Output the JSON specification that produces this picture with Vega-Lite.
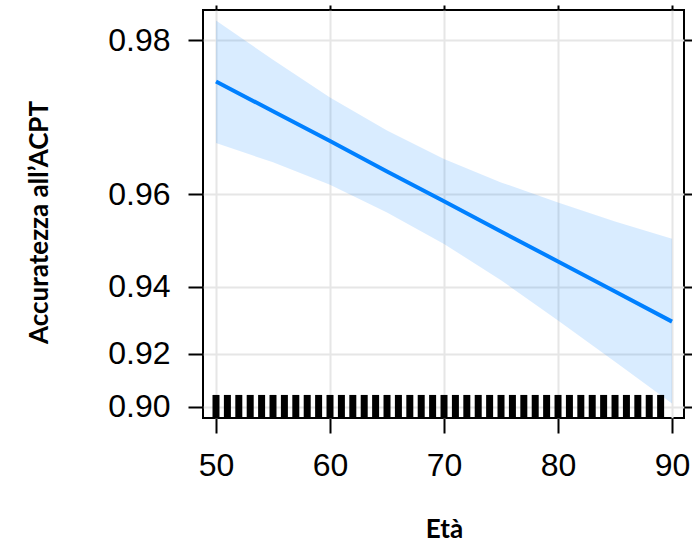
{
  "$schema": "https://vega.github.io/schema/vega-lite/v6.json",
  "autosize": "none",
  "padding": {"left": 203, "top": 10, "right": 8, "bottom": 126},
  "width": 481,
  "height": 408,
  "background": "white",
  "config": {
    "view": {"stroke": "black", "strokeWidth": 2},
    "axis": {
      "labelFont": "Liberation Sans",
      "labelFontSize": 32,
      "labelColor": "black",
      "titleFont": "Lato",
      "titleFontWeight": "bold",
      "titleColor": "black",
      "domain": false,
      "tickColor": "black",
      "tickWidth": 2,
      "gridColor": "#e6e6e6",
      "gridWidth": 2,
      "gridOpacity": 1
    }
  },
  "datasets": {
    "fit": [
      {"age": 50, "fit": 0.9758, "lo": 0.9681, "hi": 0.9817},
      {"age": 55, "fit": 0.9723, "lo": 0.9653, "hi": 0.9780},
      {"age": 60, "fit": 0.9684, "lo": 0.9616, "hi": 0.9740},
      {"age": 65, "fit": 0.9638, "lo": 0.9566, "hi": 0.9699},
      {"age": 70, "fit": 0.9587, "lo": 0.9502, "hi": 0.9658},
      {"age": 75, "fit": 0.9528, "lo": 0.9416, "hi": 0.9620},
      {"age": 80, "fit": 0.9462, "lo": 0.9305, "hi": 0.9585},
      {"age": 85, "fit": 0.9387, "lo": 0.9171, "hi": 0.9549},
      {"age": 90, "fit": 0.9302, "lo": 0.9012, "hi": 0.9513}
    ],
    "rug": [
      {"age": 50}, {"age": 51}, {"age": 52}, {"age": 53}, {"age": 54},
      {"age": 55}, {"age": 56}, {"age": 57}, {"age": 58}, {"age": 59},
      {"age": 60}, {"age": 61}, {"age": 62}, {"age": 63}, {"age": 64},
      {"age": 65}, {"age": 66}, {"age": 67}, {"age": 68}, {"age": 69},
      {"age": 70}, {"age": 71}, {"age": 72}, {"age": 73}, {"age": 74},
      {"age": 75}, {"age": 76}, {"age": 77}, {"age": 78}, {"age": 79},
      {"age": 80}, {"age": 81}, {"age": 82}, {"age": 83}, {"age": 84},
      {"age": 85}, {"age": 86}, {"age": 87}, {"age": 88}, {"age": 89}
    ]
  },
  "resolve": {"axis": {"x": "independent", "y": "independent"}},
  "layer": [
    {
      "data": {"name": "fit"},
      "mark": {"type": "area", "color": "#0080ff", "opacity": 0.15},
      "encoding": {
        "x": {
          "field": "age", "type": "quantitative",
          "scale": {"domain": [48.86, 91.05], "nice": false, "zero": false},
          "axis": {
            "orient": "bottom",
            "values": [50, 60, 70, 80, 90],
            "tickSize": 15,
            "labelPadding": 17,
            "title": "Età",
            "titleFontSize": 26,
            "titleX": 241,
            "titleY": 119,
            "titleBaseline": "alphabetic",
            "titleAlign": "center"
          }
        },
        "y": {
          "field": "lo", "type": "quantitative",
          "scale": {
            "domain": [0.8951, 0.9, 0.905, 0.91, 0.915, 0.92, 0.925, 0.93, 0.935, 0.94, 0.945, 0.95, 0.955, 0.96, 0.965, 0.97, 0.975, 0.98, 0.9826],
            "range": [408, 396.5, 384.2, 371.4, 357.8, 343.5, 328.4, 312.3, 295.1, 276.6, 256.7, 234.9, 211.0, 184.4, 154.4, 119.9, 79.4, 30, 0],
            "nice": false, "zero": false
          },
          "axis": {
            "orient": "left",
            "values": [0.9, 0.92, 0.94, 0.96, 0.98],
            "format": ".2f",
            "tickSize": 15,
            "labelPadding": 18,
            "title": "Accuratezza  all’ACPT",
            "titleFontSize": 26,
            "titleAngle": -90,
            "titleX": -164,
            "titleY": 212,
            "titleAlign": "center",
            "titleBaseline": "middle"
          }
        },
        "y2": {"field": "hi"}
      }
    },
    {
      "data": {"name": "fit"},
      "mark": {"type": "line", "color": "#0080ff", "strokeWidth": 4},
      "encoding": {
        "x": {
          "field": "age", "type": "quantitative",
          "scale": {"domain": [48.86, 91.05], "nice": false, "zero": false},
          "axis": {"orient": "top", "values": [50, 60, 70, 80, 90], "tickSize": 5, "labels": false, "grid": false, "title": null}
        },
        "y": {
          "field": "fit", "type": "quantitative",
          "scale": {
            "domain": [0.8951, 0.9, 0.905, 0.91, 0.915, 0.92, 0.925, 0.93, 0.935, 0.94, 0.945, 0.95, 0.955, 0.96, 0.965, 0.97, 0.975, 0.98, 0.9826],
            "range": [408, 396.5, 384.2, 371.4, 357.8, 343.5, 328.4, 312.3, 295.1, 276.6, 256.7, 234.9, 211.0, 184.4, 154.4, 119.9, 79.4, 30, 0],
            "nice": false, "zero": false
          },
          "axis": {"orient": "right", "values": [0.9, 0.92, 0.94, 0.96, 0.98], "tickSize": 8, "labels": false, "grid": false, "title": null}
        }
      }
    },
    {
      "data": {"name": "rug"},
      "mark": {"type": "rule", "color": "black", "strokeWidth": 7},
      "encoding": {
        "x": {"field": "age", "type": "quantitative", "axis": null},
        "y": {"datum": 0.8951, "type": "quantitative", "axis": null},
        "y2": {"datum": 0.9047}
      }
    }
  ]
}
